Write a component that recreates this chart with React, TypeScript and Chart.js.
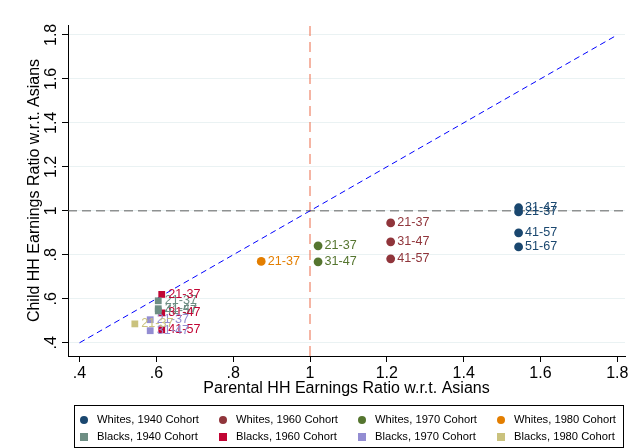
import React, { useEffect, useRef } from 'react';
import { Chart, registerables } from 'chart.js';

Chart.register(...registerables);

// ---------- data ----------
const seriesNames = [
  'Whites, 1940 Cohort', 'Whites, 1960 Cohort', 'Whites, 1970 Cohort', 'Whites, 1980 Cohort',
  'Blacks, 1940 Cohort', 'Blacks, 1960 Cohort', 'Blacks, 1970 Cohort', 'Blacks, 1980 Cohort',
];
const seriesColors = ['#1a476f', '#90353b', '#55752f', '#e37e00', '#6e8e84', '#c10534', '#938dd2', '#cac27e'];
const seriesShapes = ['circle', 'circle', 'circle', 'circle', 'rect', 'rect', 'rect', 'rect'];

const w1940X = [1.543, 1.543, 1.543, 1.543];
const w1940Y = [0.995, 1.014, 0.9, 0.836];
const w1940Labels = ['21-37', '31-47', '41-57', '51-67'];

const w1960X = [1.21, 1.21, 1.21];
const w1960Y = [0.945, 0.859, 0.782];
const w1960Labels = ['21-37', '31-47', '41-57'];

const w1970X = [1.021, 1.021];
const w1970Y = [0.841, 0.768];
const w1970Labels = ['21-37', '31-47'];

const w1980X = [0.873];
const w1980Y = [0.77];
const w1980Labels = ['21-37'];

const b1940X = [0.605, 0.605, 0.605];
const b1940Y = [0.591, 0.555, 0.545];
const b1940Labels = ['21-37', '31-47', '41-57'];

const b1960X = [0.614, 0.614, 0.614];
const b1960Y = [0.62, 0.536, 0.459];
const b1960Labels = ['21-37', '31-47', '41-57'];

const b1970X = [0.584, 0.584];
const b1970Y = [0.505, 0.455];
const b1970Labels = ['21-37', '31-47'];

const b1980X = [0.544];
const b1980Y = [0.486];
const b1980Labels = ['21-37'];

const tickValues = [0.4, 0.6, 0.8, 1, 1.2, 1.4, 1.6, 1.8];
const tickLabels = ['.4', '.6', '.8', '1', '1.2', '1.4', '1.6', '1.8'];

const xTitle = 'Parental HH Earnings Ratio w.r.t. Asians';
const yTitle = 'Child HH Earnings Ratio w.r.t. Asians';

const xMin = 0.37, xMax = 1.82;
const yMin = 0.34, yMax = 1.845;
const refValue = 1;
const diagStart = 0.4, diagEnd = 1.8;

const allX = [w1940X, w1960X, w1970X, w1980X, b1940X, b1960X, b1970X, b1980X];
const allY = [w1940Y, w1960Y, w1970Y, w1980Y, b1940Y, b1960Y, b1970Y, b1980Y];
const allLabels = [w1940Labels, w1960Labels, w1970Labels, w1980Labels, b1940Labels, b1960Labels, b1970Labels, b1980Labels];

const FONT = '"Liberation Sans", Arial, sans-serif';

const pointLabelPlugin = {
  id: 'pointLabels',
  afterDatasetsDraw(chart: any) {
    const ctx = chart.ctx;
    ctx.save();
    ctx.font = `12.6px ${FONT}`;
    ctx.textBaseline = 'middle';
    ctx.textAlign = 'left';
    chart.data.datasets.forEach((ds: any, i: number) => {
      if (!ds.pointText) return;
      const meta = chart.getDatasetMeta(i);
      meta.data.forEach((el: any, j: number) => {
        ctx.fillStyle = ds.backgroundColor;
        ctx.fillText(ds.pointText[j], el.x + 6.5, el.y);
      });
    });
    ctx.restore();
  },
};

const legendPlugin = {
  id: 'boxLegend',
  afterDraw(chart: any) {
    const ctx = chart.ctx;
    ctx.save();
    const left = 74, top = 405, right = 623, bottom = 447;
    ctx.strokeStyle = '#000';
    ctx.lineWidth = 1;
    ctx.strokeRect(left + 0.5, top + 0.5, right - left, bottom - top);
    ctx.font = `11.2px ${FONT}`;
    ctx.textBaseline = 'middle';
    ctx.textAlign = 'left';
    const colX = [84, 223, 362, 501];
    const rowY = [420, 437];
    seriesNames.forEach((name, i) => {
      const cx = colX[i % 4];
      const cy = rowY[Math.floor(i / 4)];
      ctx.fillStyle = seriesColors[i];
      if (seriesShapes[i] === 'circle') {
        ctx.beginPath();
        ctx.arc(cx, cy, 4, 0, Math.PI * 2);
        ctx.fill();
      } else {
        ctx.fillRect(cx - 4, cy - 4, 8, 8);
      }
      ctx.fillStyle = '#000';
      ctx.fillText(name, cx + 13, cy);
    });
    ctx.restore();
  },
};

export default function App() {
  const ref = useRef<HTMLCanvasElement>(null);
  useEffect(() => {
    document.body.style.margin = '0';
    const scatterSets = seriesNames.map((name, i) => ({
      type: 'scatter' as const,
      label: name,
      data: allX[i].map((x, j) => ({ x, y: allY[i][j] })),
      pointText: allLabels[i],
      backgroundColor: seriesColors[i],
      borderColor: seriesColors[i],
      pointStyle: seriesShapes[i],
      pointRadius: seriesShapes[i] === 'circle' ? 4.4 : 4.8,
      borderWidth: 0,
      order: 1,
    }));
    const lineSets = [
      {
        type: 'line' as const,
        label: 'diag',
        data: [{ x: diagStart, y: diagStart }, { x: diagEnd, y: diagEnd }],
        borderColor: '#0000ff',
        borderWidth: 1,
        borderDash: [6, 4],
        pointRadius: 0,
        fill: false,
        order: 2,
      },
      {
        type: 'line' as const,
        label: 'hline',
        data: [{ x: xMin, y: refValue }, { x: xMax, y: refValue }],
        borderColor: '#5e5e5e',
        borderWidth: 1,
        borderDash: [9, 5],
        pointRadius: 0,
        fill: false,
        order: 3,
      },
      {
        type: 'line' as const,
        label: 'vline',
        data: [{ x: refValue, y: yMin }, { x: refValue, y: yMax }],
        borderColor: '#eb6a48',
        borderWidth: 1,
        borderDash: [10, 6],
        pointRadius: 0,
        fill: false,
        order: 3,
      },
    ];
    const chart = new Chart(ref.current!, {
      type: 'scatter',
      data: { datasets: [...scatterSets, ...lineSets] as any },
      options: {
        animation: false,
        responsive: false,
        maintainAspectRatio: false,
        layout: { padding: { left: 0, top: 25, right: 8, bottom: 50 } },
        plugins: { legend: { display: false }, tooltip: { enabled: false } },
        scales: {
          x: {
            type: 'linear',
            min: xMin,
            max: xMax,
            afterBuildTicks: (s: any) => { s.ticks = tickValues.map((v) => ({ value: v })); },
            afterFit: (s: any) => { s.height = 42; },
            ticks: {
              autoSkip: false,
              maxRotation: 0,
              color: '#000',
              padding: 2,
              font: { family: FONT, size: 16 },
              callback: (v: any) => tickLabels[tickValues.indexOf(Number(Number(v).toFixed(2)))] ?? '',
            },
            grid: { drawOnChartArea: false, tickLength: 6, tickColor: '#000' },
            border: { display: true, color: '#000', width: 1 },
            title: { display: true, text: xTitle, color: '#000', font: { family: FONT, size: 16 }, padding: { top: 0, bottom: 0 } },
          },
          y: {
            type: 'linear',
            min: yMin,
            max: yMax,
            afterBuildTicks: (s: any) => { s.ticks = tickValues.map((v) => ({ value: v })); },
            afterFit: (s: any) => { s.width = 68; },
            ticks: {
              autoSkip: false,
              minRotation: 90,
              maxRotation: 90,
              crossAlign: 'center',
              color: '#000',
              padding: -1,
              font: { family: FONT, size: 16 },
              callback: (v: any) => tickLabels[tickValues.indexOf(Number(Number(v).toFixed(2)))] ?? '',
            },
            grid: { color: '#eaf2f3', tickLength: 6, tickColor: '#000', lineWidth: 1 },
            border: { display: true, color: '#000', width: 1 },
            title: { display: true, text: yTitle, color: '#000', font: { family: FONT, size: 16 }, padding: { top: 25, bottom: 0 } },
          },
        },
      },
      plugins: [pointLabelPlugin, legendPlugin],
    } as any);
    return () => chart.destroy();
  }, []);
  return <canvas ref={ref} width={633} height={448} style={{ display: 'block', width: 633, height: 448 }} />;
}
